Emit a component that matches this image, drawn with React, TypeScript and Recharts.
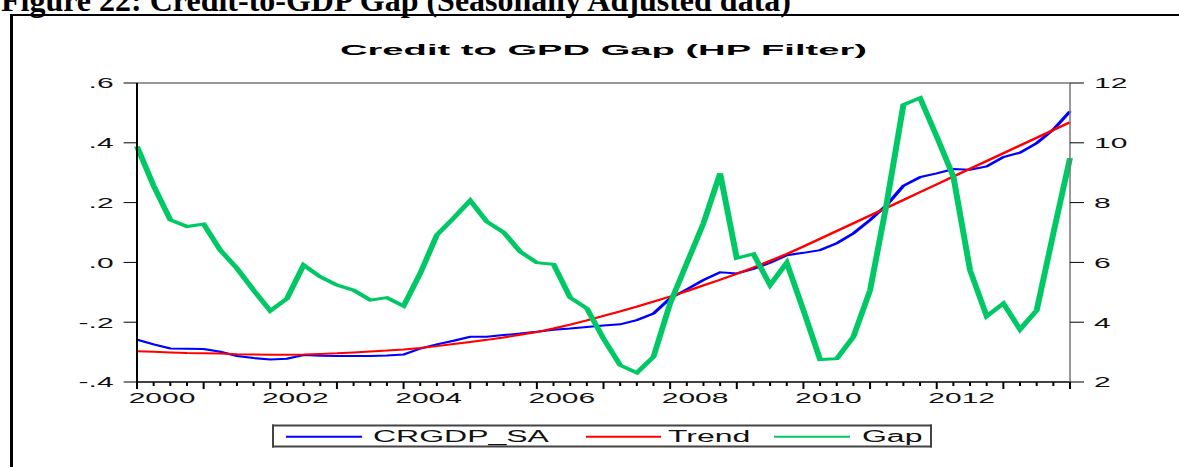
import { LineChart, Line, XAxis, YAxis, ReferenceLine } from 'recharts';

// quarterly observations, 2000Q1 .. 2014Q1
const START_YEAR = 2000;

const crgdp = [
  -0.258, -0.274, -0.288, -0.289, -0.290, -0.299, -0.313, -0.320, -0.325, -0.322,
  -0.310, -0.312, -0.313, -0.313, -0.313, -0.311, -0.308, -0.288, -0.274, -0.262,
  -0.249, -0.249, -0.243, -0.238, -0.232, -0.225, -0.221, -0.216, -0.211, -0.207,
  -0.193, -0.171, -0.120, -0.090, -0.059, -0.033, -0.037, -0.022, -0.001, 0.024,
  0.032, 0.041, 0.064, 0.097, 0.142, 0.192, 0.256, 0.285, 0.298, 0.312,
  0.310, 0.321, 0.352, 0.367, 0.399, 0.444, 0.505,
];

const trend = [
  -0.297, -0.299, -0.301, -0.303, -0.304, -0.305, -0.307, -0.308, -0.309, -0.309,
  -0.308, -0.306, -0.304, -0.301, -0.298, -0.295, -0.291, -0.286, -0.280, -0.273,
  -0.266, -0.259, -0.251, -0.242, -0.233, -0.221, -0.208, -0.194, -0.179, -0.164,
  -0.148, -0.131, -0.114, -0.096, -0.077, -0.058, -0.038, -0.017, 0.005, 0.028,
  0.053, 0.079, 0.105, 0.131, 0.157, 0.183, 0.209, 0.235, 0.261, 0.287,
  0.313, 0.339, 0.365, 0.391, 0.417, 0.443, 0.469,
];

const gap = [
  9.88, 8.56, 7.42, 7.20, 7.28, 6.41, 5.80, 5.07, 4.38, 4.79,
  5.91, 5.52, 5.24, 5.07, 4.74, 4.82, 4.54, 5.63, 6.92, 7.48,
  8.07, 7.36, 7.01, 6.36, 5.99, 5.94, 4.82, 4.46, 3.45, 2.56,
  2.31, 2.84, 4.63, 5.97, 7.31, 8.98, 6.14, 6.28, 5.24, 5.99,
  4.40, 2.75, 2.78, 3.51, 5.07, 7.98, 11.27, 11.50, 10.21, 8.87,
  5.74, 4.20, 4.63, 3.76, 4.40, 6.97, 9.49,
];

const yearLabels = [2000, 2002, 2004, 2006, 2008, 2010, 2012];
const leftTicks = [-0.4, -0.2, 0, 0.2, 0.4, 0.6];
const rightTicks = [2, 4, 6, 8, 10, 12];
const seriesKeys = ['crgdp', 'trend', 'gap'];
const seriesNames = ['CRGDP_SA', 'Trend', 'Gap'];
const seriesColors = ['#0000ff', '#ff0000', '#00c864'];

const quarters = gap.map((_, i) => START_YEAR + i / 4);
const data = quarters.map((t, i) => ({ t, crgdp: crgdp[i], trend: trend[i], gap: gap[i] }));
// quarter marks + year labels centred in the middle of the year
const xTicks = [...quarters, ...yearLabels.map((y) => y + 0.375)].sort((a, b) => a - b);

const FONT = '"Liberation Sans", Arial, sans-serif';

// the EViews picture is stretched about 2x sideways, so the chart is drawn
// at half width and scaled up
const W = 590;

function XTick({ x, y, payload }: any) {
  const v = payload.value;
  const frac = v - Math.floor(v);
  if (frac === 0.375) {
    return (
      <text x={x} y={y + 21} textAnchor="middle" fontSize={15} fontFamily={FONT} fill="#111">
        {Math.floor(v)}
      </text>
    );
  }
  return <line x1={x} x2={x} y1={y} y2={y + (frac === 0 ? 7 : 4)} stroke="#000" strokeWidth={1} />;
}

const fmtLeft = (v: number) => (v < -1e-9 ? '-' : '') + '.' + Math.round(Math.abs(v) * 10);

const legendSpots = [
  { x1: 143, x2: 181, tx: 186.5 },
  { x1: 293, x2: 330.5, tx: 334 },
  { x1: 387, x2: 425, tx: 431 },
];

export default function App() {
  return (
    <div style={{ position: 'absolute', left: 0, top: 0, width: 1179, height: 467, overflow: 'hidden', background: '#fff' }}>
      <div
        style={{
          position: 'absolute', left: 10, top: 14, width: 1300, height: 600,
          borderLeft: '3px solid #000', borderTop: '2px solid #000',
        }}
      />
      <svg width={1179} height={30} style={{ position: 'absolute', left: 0, top: 0 }}>
        <text x={1} y={11} fontFamily='"Liberation Serif", "Times New Roman", serif' fontWeight="bold" fontSize={32} fill="#000">
          Figure 22: Credit-to-GDP Gap (Seasonally Adjusted data)
        </text>
      </svg>

      <div style={{ position: 'absolute', left: 0, top: 0, width: W, height: 467, transform: 'scaleX(2)', transformOrigin: '0 0' }}>
        <LineChart width={W} height={467} data={data} margin={{ top: 83, right: 0, bottom: 55, left: 0 }}>
          <XAxis
            dataKey="t"
            type="number"
            domain={[2000, 2014]}
            ticks={xTicks}
            interval={0}
            tick={(p: any) => <XTick {...p} />}
            tickSize={0}
            tickMargin={0}
            tickLine={false}
            axisLine={{ stroke: '#000', strokeWidth: 1.5 }}
            height={30}
          />
          <YAxis
            yAxisId="left"
            domain={[-0.4, 0.6]}
            ticks={leftTicks}
            width={68.5}
            tickSize={6.7}
            tickMargin={5}
            tickFormatter={fmtLeft}
            tick={{ fill: '#111', fontSize: 15, fontFamily: FONT }}
            axisLine={{ stroke: '#000', strokeWidth: 1 }}
            tickLine={{ stroke: '#000' }}
          />
          <YAxis
            yAxisId="right"
            orientation="right"
            domain={[2, 12]}
            ticks={rightTicks}
            width={55}
            tickSize={7}
            tickMargin={5}
            tick={{ fill: '#111', fontSize: 15, fontFamily: FONT }}
            axisLine={{ stroke: '#777', strokeWidth: 0.75 }}
            tickLine={{ stroke: '#000' }}
          />
          <ReferenceLine yAxisId="left" y={0.6} stroke="#333" strokeWidth={1} />
          <Line yAxisId="left" type="linear" dataKey="crgdp" name="CRGDP_SA" stroke={seriesColors[0]} strokeWidth={2} dot={false} isAnimationActive={false} />
          <Line yAxisId="left" type="linear" dataKey="trend" name="Trend" stroke={seriesColors[1]} strokeWidth={2} dot={false} isAnimationActive={false} />
          <Line yAxisId="right" type="linear" dataKey="gap" name="Gap" stroke={seriesColors[2]} strokeWidth={3} dot={false} isAnimationActive={false} />
        </LineChart>

        <svg width={W} height={467} style={{ position: 'absolute', left: 0, top: 0, pointerEvents: 'none' }}>
          <text
            x={170}
            y={55}
            fontSize={15.5}
            fontWeight="bold"
            fontFamily={FONT}
            fill="#000"
            textLength={263.5}
            lengthAdjust="spacingAndGlyphs"
          >
            Credit to GPD Gap (HP Filter)
          </text>

          {/* legend box */}
          <rect x={136} y={425.5} width={330} height={21} fill="#fff" stroke="none" />
          <line x1={136} x2={466} y1={425.5} y2={425.5} stroke="#444" strokeWidth={2} />
          <line x1={136} x2={466} y1={446.5} y2={446.5} stroke="#444" strokeWidth={2} />
          <line x1={136.5} x2={136.5} y1={424.5} y2={447.5} stroke="#444" strokeWidth={1} />
          <line x1={465.5} x2={465.5} y1={424.5} y2={447.5} stroke="#444" strokeWidth={1} />
          {seriesKeys.map((k, i) => (
            <g key={k}>
              <line x1={legendSpots[i].x1} x2={legendSpots[i].x2} y1={436.7} y2={436.7} stroke={seriesColors[i]} strokeWidth={2} />
              <text x={legendSpots[i].tx} y={441.7} fontSize={16} fontFamily={FONT} fill="#111">
                {seriesNames[i]}
              </text>
            </g>
          ))}
        </svg>
      </div>
    </div>
  );
}
